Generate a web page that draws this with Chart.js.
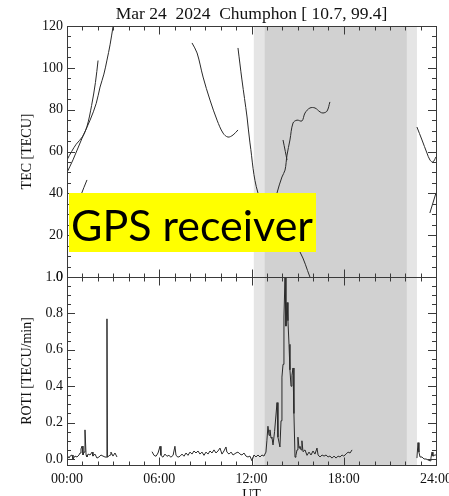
<!DOCTYPE html>
<html>
<head>
<meta charset="utf-8">
<script src="https://cdn.jsdelivr.net/npm/chart.js@4.4.0/dist/chart.umd.min.js"></script>
<style>
  html, body { margin: 0; padding: 0; background: #fff; }
</style>
</head>
<body>
<canvas id="grafico" width="449" height="496"></canvas>
<script>
// Ejes: etiquetas de horas y ticks
const horasTicks = [0, 6, 12, 18, 24]
const horasEtiquetas = ["00:00", "06:00", "12:00", "18:00", "24:00"]
const tecTicks = [0, 20, 40, 60, 80, 100, 120]
const rotiTicks = [0, 0.2, 0.4, 0.6, 0.8, 1.0]

// Sombreado (terminador): [inicio, fin] en horas UT
const crepusculo = [12.15, 22.76]
const noche = [12.86, 22.1]

// TEC por satélite, pares [hora UT, TEC]
const tecA = [[0, 56], [0.3, 60], [0.6, 63.5], [1.0, 67], [1.3, 72], [1.6, 82], [1.85, 93], [2.02, 103.5]]
const tecB = [[0, 50], [0.39, 56], [0.98, 66.4], [1.5, 75], [1.9, 83], [2.15, 90.8], [2.4, 97], [2.6, 103.7], [2.8, 111], [2.99, 119.5], [3.05, 122]]
const tecC = [[0.75, 35], [0.9, 39], [1.3, 46.4]]
const tecD = [[8.13, 111.9], [8.46, 107.1], [8.85, 95.6], [9.3, 84.6], [9.76, 75], [10.15, 68.8], [10.47, 66.9], [10.8, 67.9], [11.12, 70.3]]
const tecE = [[11.12, 109.5], [11.38, 94.2], [11.71, 76.5], [11.9, 64.1], [12.42, 40.2], [13.2, 32], [14.18, 21.5], [15.15, 12], [15.8, 0]]
const tecF = [[13.33, 29.6], [13.66, 40.2], [13.98, 47.8], [14.18, 51.1], [14.31, 58.3], [14.5, 65.5], [14.7, 73.6], [14.96, 75], [15.28, 74.6], [15.48, 78.4], [15.8, 80.8], [16.13, 80.8], [16.46, 78.9], [16.65, 78.4], [16.91, 79.3], [17.1, 83.7]]
const tecGancho = [[14.05, 65.5], [14.2, 60], [14.31, 55.9]]
const tecG = [[22.76, 71.7], [23.09, 65.5], [23.41, 59.3], [23.61, 55.9], [23.8, 55], [24, 57.4]]
const tecH = [[23.6, 30.6], [24, 40.2]]

// ROTI, pares [hora UT, TECU/min]
const rotiMadrugada = [[0, 0.022], [0.13, 0.005], [0.2, 0.016], [0.33, 0.022], [0.39, 0], [0.52, 0.016], [0.65, 0.011], [0.78, 0.022], [0.85, 0.033], [0.91, 0.055], [0.98, 0.071], [1.04, 0.022], [1.11, 0.038], [1.17, 0.16], [1.24, 0.022], [1.3, 0.011], [1.37, 0.027], [1.5, 0.022], [1.63, 0.038], [1.69, 0.016], [1.82, 0.027], [1.95, 0.005], [2.08, 0.011], [2.21, 0.022], [2.34, 0.016], [2.47, 0.011], [2.57, 0.01], [2.6, 0.77], [2.63, 0.01], [2.8, 0.022], [2.86, 0.038], [2.99, 0.016], [3.12, 0.033], [3.25, 0.011]]
const rotiDia = [[5.53, 0.04], [5.66, 0.02], [5.79, 0.015], [5.92, 0.033], [6.05, 0.07], [6.11, 0.02], [6.24, 0.01], [6.37, 0.027], [6.5, 0.015], [6.63, 0.02], [6.76, 0.01], [6.9, 0.02], [7.02, 0.07], [7.09, 0.02], [7.22, 0.01], [7.35, 0.015], [7.48, 0.027], [7.61, 0.015], [7.74, 0.033], [7.87, 0.02], [8.0, 0.038], [8.13, 0.027], [8.26, 0.044], [8.39, 0.033], [8.52, 0.044], [8.65, 0.027], [8.78, 0.038], [8.91, 0.02], [9.04, 0.038], [9.17, 0.027], [9.3, 0.044], [9.43, 0.033], [9.56, 0.05], [9.69, 0.033], [9.82, 0.044], [9.95, 0.06], [10.08, 0.027], [10.21, 0.044], [10.34, 0.066], [10.4, 0.038], [10.54, 0.027], [10.67, 0.038], [10.8, 0.022], [10.99, 0.033], [11.12, 0.038], [11.25, 0.027], [11.38, 0.022], [11.51, 0.033], [11.64, 0.016], [11.77, 0.011], [11.9, 0.016], [12.03, -0.01], [12.16, 0.022], [12.29, 0.011], [12.42, 0.022], [12.55, 0.011], [12.68, 0.022], [12.81, 0.016], [12.94, 0.038], [13.0, 0.1], [13.07, 0.18], [13.14, 0.13], [13.2, 0.16], [13.27, 0.115], [13.33, 0.12], [13.4, 0.077], [13.5, 0.15], [13.66, 0.31], [13.72, 0.12], [13.85, 0.066], [13.92, 0.21], [13.98, 0.45], [14.05, 0.52], [14.11, 0.78], [14.18, 1.0], [14.24, 0.73], [14.31, 0.86], [14.37, 0.76], [14.44, 0.63], [14.5, 0.49], [14.57, 0.4], [14.63, 0.46], [14.7, 0.5], [14.76, 0.25], [14.83, 0.01], [14.89, 0.02], [14.96, 0.05], [15.02, 0.12], [15.09, 0.06], [15.15, 0.07], [15.22, 0.05], [15.28, 0.1], [15.35, 0.04], [15.48, 0.05], [15.61, 0.02], [15.74, 0.038], [15.87, 0.022], [16.0, 0.044], [16.13, 0.027], [16.26, 0.06], [16.33, 0.022], [16.46, 0.011], [16.59, 0.022], [16.72, 0.016], [16.85, 0.022], [16.98, 0.011], [17.1, 0.016], [17.24, 0.005], [17.37, 0.016], [17.5, 0.005], [17.63, 0.016], [17.76, 0.011], [17.89, 0.022], [18.0, 0.016], [18.15, 0.027], [18.28, 0.038], [18.41, 0.033], [18.54, 0.05]]
const rotiNoche = [[22.76, 0.005], [22.83, 0.09], [22.89, 0.038], [22.96, 0.011], [23.09, 0.011], [23.22, 0], [23.35, 0], [23.48, -0.005], [23.61, -0.01], [23.67, 0.005], [23.74, 0.038], [23.8, 0.016], [23.93, 0.022], [24, 0.022]]

const segmentosTec = [tecA, tecB, tecC, tecD, tecE, tecF, tecGancho, tecG, tecH]
const segmentosRoti = [rotiMadrugada, rotiDia, rotiNoche]

const fuenteSerif = "'Liberation Serif', 'Times New Roman', serif"
const colorTexto = "#111"
const colorLinea = "#2a2a2a"

const aPuntos = (seg) => seg.map(([x, y]) => ({ x, y }))

// Sombreado gris de fondo
const sombreado = {
  id: "sombreado",
  beforeDatasetsDraw(chart) {
    const { ctx, chartArea, scales } = chart
    const x = scales.x
    const alto = chartArea.bottom - chartArea.top
    ctx.save()
    ctx.fillStyle = "#e5e5e5"
    ctx.fillRect(x.getPixelForValue(crepusculo[0]), chartArea.top, x.getPixelForValue(crepusculo[1]) - x.getPixelForValue(crepusculo[0]), alto)
    ctx.fillStyle = "#d1d1d1"
    ctx.fillRect(x.getPixelForValue(noche[0]), chartArea.top, x.getPixelForValue(noche[1]) - x.getPixelForValue(noche[0]), alto)
    ctx.restore()
  },
}

// Marco de cada panel con ticks hacia adentro (estilo IDL)
const marco = {
  id: "marco",
  afterDatasetsDraw(chart) {
    const { ctx, scales } = chart
    const x = scales.x
    const izq = x.left
    const der = x.right
    ctx.save()
    ctx.strokeStyle = "#3a3a3a"
    ctx.lineWidth = 1
    const panel = (escala, mayor, menor) => {
      const arriba = Math.round(escala.top) + 0.5
      const abajo = Math.round(escala.bottom) + 0.5
      ctx.strokeRect(Math.round(izq) + 0.5, arriba, Math.round(der - izq), abajo - arriba)
      ctx.beginPath()
      for (let h = 0; h <= 24; h++) {
        const px = Math.round(x.getPixelForValue(h)) + 0.5
        const largo = h % 6 === 0 ? 8 : 4
        ctx.moveTo(px, abajo); ctx.lineTo(px, abajo - largo)
        ctx.moveTo(px, arriba); ctx.lineTo(px, arriba + largo)
      }
      const n = Math.round(escala.max / menor)
      for (let i = 0; i <= n; i++) {
        const v = i * menor
        if (v < escala.min || v > escala.max + 1e-9) continue
        const py = Math.round(escala.getPixelForValue(v)) + 0.5
        const esMayor = Math.abs(v / mayor - Math.round(v / mayor)) < 1e-6
        const largo = esMayor ? 8 : 4
        ctx.moveTo(izq, py); ctx.lineTo(izq + largo, py)
        ctx.moveTo(der, py); ctx.lineTo(der - largo, py)
      }
      ctx.stroke()
    }
    panel(scales.tec, 20, 5)
    panel(scales.roti, 0.2, 0.05)
    ctx.restore()
  },
}

// Recuadro amarillo "GPS receiver"
const etiqueta = {
  id: "etiqueta",
  afterDraw(chart) {
    const ctx = chart.ctx
    ctx.save()
    ctx.fillStyle = "#ffff00"
    ctx.fillRect(69, 193, 247, 59)
    const texto = "GPS receiver"
    ctx.font = "42px Lato, 'Open Sans', sans-serif"
    const w = ctx.measureText(texto).width
    const tam = 42 * 242 / w
    ctx.font = `${tam}px Lato, 'Open Sans', sans-serif`
    ctx.fillStyle = "#000"
    ctx.textBaseline = "alphabetic"
    ctx.fillText(texto, 71, 241)
    ctx.restore()
  },
}

const ctxGrafico = document.getElementById("grafico").getContext("2d")
const grafico = new Chart(ctxGrafico, {
  type: "line",
  data: {
    datasets: [
      ...segmentosTec.map((s) => ({
        data: aPuntos(s),
        yAxisID: "tec",
        borderColor: colorLinea,
        borderWidth: 1,
        pointRadius: 0,
        tension: 0.35,
        fill: false,
      })),
      ...segmentosRoti.map((s) => ({
        data: aPuntos(s),
        yAxisID: "roti",
        borderColor: colorLinea,
        borderWidth: 1,
        pointRadius: 0,
        tension: 0,
        fill: false,
      })),
    ],
  },
  options: {
    responsive: false,
    animation: false,
    devicePixelRatio: 1,
    layout: { padding: { left: 0, right: 13, top: 0, bottom: 0 } },
    plugins: {
      legend: { display: false },
      tooltip: { enabled: false },
      title: {
        display: true,
        fullSize: false,
        text: "Mar 24  2024  Chumphon [ 10.7, 99.4]",
        color: colorTexto,
        font: { family: fuenteSerif, size: 17.5, weight: "normal" },
        padding: { top: 3.5, bottom: 1.5 },
      },
    },
    scales: {
      x: {
        type: "linear",
        min: 0,
        max: 24,
        grid: { display: false, drawTicks: false },
        border: { display: false },
        afterBuildTicks: (s) => { s.ticks = horasTicks.map((v) => ({ value: v })) },
        ticks: {
          autoSkip: false,
          maxRotation: 0,
          padding: 6,
          color: colorTexto,
          font: { family: fuenteSerif, size: 14 },
          callback: (v, i) => horasEtiquetas[i],
        },
        title: {
          display: true,
          text: "UT",
          color: colorTexto,
          font: { family: fuenteSerif, size: 14, lineHeight: 1 },
          padding: { top: 0, bottom: -6 },
        },
        afterFit: (s) => { s.height = 31; s.paddingLeft = 0; s.paddingRight = 0 },
      },
      roti: {
        type: "linear",
        position: "left",
        stack: "panel",
        stackWeight: 188,
        min: -0.033,
        max: 1.0,
        grid: { display: false, drawTicks: false },
        border: { display: false },
        afterBuildTicks: (s) => { s.ticks = rotiTicks.map((v) => ({ value: v })) },
        ticks: {
          padding: 4,
          color: colorTexto,
          font: { family: fuenteSerif, size: 14 },
          callback: (v) => v.toFixed(1),
        },
        title: {
          display: true,
          text: "ROTI [TECU/min]",
          color: colorTexto,
          font: { family: fuenteSerif, size: 14 },
          padding: { top: 19, bottom: 0 },
        },
        afterFit: (s) => { s.width = 67 },
      },
      tec: {
        type: "linear",
        position: "left",
        stack: "panel",
        stackWeight: 251,
        min: 0,
        max: 120,
        grid: { display: false, drawTicks: false },
        border: { display: false },
        afterBuildTicks: (s) => { s.ticks = tecTicks.map((v) => ({ value: v })) },
        ticks: {
          padding: 4,
          color: colorTexto,
          font: { family: fuenteSerif, size: 14 },
          callback: (v) => String(v),
        },
        title: {
          display: true,
          text: "TEC [TECU]",
          color: colorTexto,
          font: { family: fuenteSerif, size: 14 },
          padding: { top: 19, bottom: 0 },
        },
        afterFit: (s) => { s.width = 67 },
      },
    },
  },
  plugins: [sombreado, marco, etiqueta],
})
</script>
</body>
</html>
